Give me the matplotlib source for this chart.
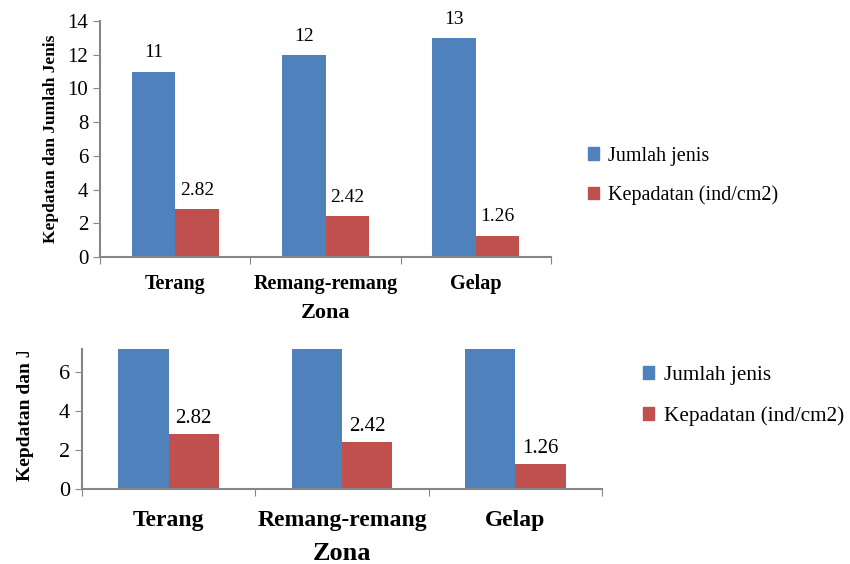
import matplotlib
matplotlib.use('Agg')
import numpy as np
import matplotlib.pyplot as plt
from matplotlib.transforms import Bbox, TransformedBbox
from matplotlib.patches import Patch

plt.rcParams['font.family'] = ['Liberation Serif', 'DejaVu Serif']

zona = ['Terang', 'Remang-remang', 'Gelap']
jumlah_jenis = [11, 12, 13]
kepadatan = [2.82, 2.42, 1.26]
label_jenis = ['11', '12', '13']
label_kep = ['2.82', '2.42', '1.26']

blue = '#4f81bd'
red = '#c0504d'
grey = '#868686'
W, H = 850, 564

fig = plt.figure(figsize=(8.5, 5.64), dpi=100)


def px(x0, y0, x1, y1):
    return [x0 / W, 1 - y1 / H, (x1 - x0) / W, (y1 - y0) / H]


def panel(rect, ymax, yticks, fs, cfs, zfs, pad, zpad, show_top):
    ax = fig.add_axes(rect)
    x = np.arange(len(zona))
    w = 0.29
    ax.bar(x - w / 2, jumlah_jenis, w, color=blue)
    ax.bar(x + w / 2, kepadatan, w, color=red)
    if show_top:
        for xi, v, t in zip(x, jumlah_jenis, label_jenis):
            ax.text(xi - w / 2, v + 0.6, t, ha='center', va='bottom', fontsize=fs - 1)
    for xi, v, t in zip(x, kepadatan, label_kep):
        ax.text(xi + w / 2, v + ymax * 0.045, t, ha='center', va='bottom', fontsize=fs - 1)
    ax.set_xlim(-0.5, 2.5)
    ax.set_ylim(0, ymax)
    ax.set_yticks(yticks)
    ax.set_xticks([-0.5, 0.5, 1.5, 2.5])
    ax.set_xticklabels([])
    ax.set_xticks(x, minor=True)
    ax.set_xticklabels(zona, minor=True, fontweight='bold', fontsize=cfs)
    ax.tick_params(axis='x', which='minor', length=0, pad=pad)
    ax.tick_params(axis='both', which='major', direction='out', length=5,
                   color=grey, labelsize=fs)
    for s in ['top', 'right']:
        ax.spines[s].set_visible(False)
    for s in ['left', 'bottom']:
        ax.spines[s].set_color(grey)
        ax.spines[s].set_linewidth(1.5)
    ax.set_xlabel('Zona', fontweight='bold', fontsize=zfs, labelpad=zpad)
    return ax


ax1 = panel(px(100, 21, 551, 257), 14, range(0, 15, 2), 15, 14.5, 16, 12, 7, True)
ax1.set_ylabel('Kepdatan dan Jumlah Jenis', fontweight='bold', fontsize=12.5, labelpad=6)
ax1.legend(handles=[Patch(color=blue, label='Jumlah jenis'),
                    Patch(color=red, label='Kepadatan (ind/cm2)')],
           loc='center left', bbox_to_anchor=(580 / W, 1 - 176 / H),
           bbox_transform=fig.transFigure, frameon=False, fontsize=14.5,
           handlelength=0.55, handleheight=0.55, handletextpad=0.45,
           labelspacing=1.0, borderaxespad=0)

ax2 = panel(px(82, 349, 602, 489), 7.18, [0, 2, 4, 6], 16, 17, 19, 15, 8, False)
yl = fig.text(26 / W, 1 - 481 / H, 'Kepdatan dan Jumlah Jenis', rotation=90,
              ha='center', va='bottom', fontweight='bold', fontsize=14)
yl.set_clip_box(TransformedBbox(Bbox([[0, 0], [1, 1 - 352 / H]]), fig.transFigure))
yl.set_clip_on(True)
ax2.legend(handles=[Patch(color=blue, label='Jumlah jenis'),
                    Patch(color=red, label='Kepadatan (ind/cm2)')],
           loc='center left', bbox_to_anchor=(634 / W, 1 - 396 / H),
           bbox_transform=fig.transFigure, frameon=False, fontsize=15.3,
           handlelength=0.55, handleheight=0.55, handletextpad=0.45,
           labelspacing=1.0, borderaxespad=0)

fig.savefig('out.png', dpi=100)
